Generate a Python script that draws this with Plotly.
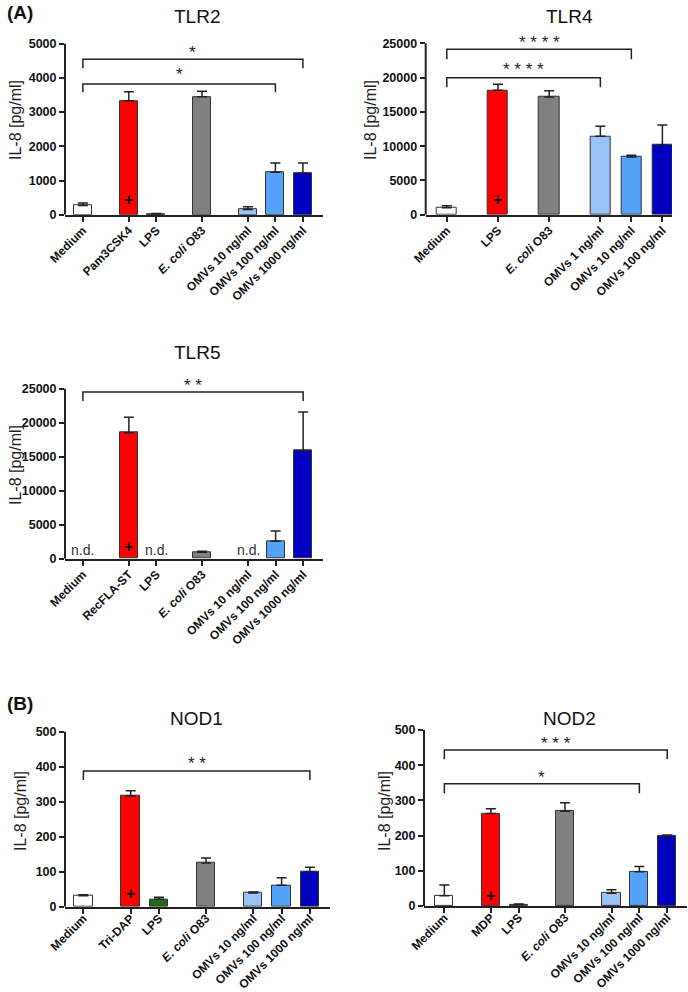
import plotly.graph_objects as go

W, H = 688, 992

# ---------------- data ----------------
tlr2_labels = ["Medium", "Pam3CSK4", "LPS", "<i>E. coli</i> O83",
               "OMVs 10 ng/ml", "OMVs 100 ng/ml", "OMVs 1000 ng/ml"]
tlr2_mean = [270, 3330, 15, 3450, 155, 1240, 1220]
tlr2_upper = [340, 3596, 35, 3608, 234, 1512, 1512]

tlr4_labels = ["Medium", "LPS", "<i>E. coli</i> O83",
               "OMVs 1 ng/ml", "OMVs 10 ng/ml", "OMVs 100 ng/ml"]
tlr4_mean = [1000, 18150, 17170, 11440, 8420, 10210]
tlr4_upper = [1320, 19030, 18090, 12900, 8670, 13090]

tlr5_labels = ["Medium", "RecFLA-ST", "LPS", "<i>E. coli</i> O83",
               "OMVs 10 ng/ml", "OMVs 100 ng/ml", "OMVs 1000 ng/ml"]
tlr5_mean = [None, 18530, None, 950, None, 2560, 15880]
tlr5_upper = [None, 20790, None, 1100, None, 4070, 21570]

nod1_labels = ["Medium", "Tri-DAP", "LPS", "<i>E. coli</i> O83",
               "OMVs 10 ng/ml", "OMVs 100 ng/ml", "OMVs 1000 ng/ml"]
nod1_mean = [31, 316, 21, 125, 39, 61, 100]
nod1_upper = [34, 331, 27, 139, 42, 83, 113]

nod2_labels = ["Medium", "MDP", "LPS", "<i>E. coli</i> O83",
               "OMVs 10 ng/ml", "OMVs 100 ng/ml", "OMVs 1000 ng/ml"]
nod2_mean = [29, 263, 4, 269, 36, 97, 199]
nod2_upper = [60, 276, 6, 293, 46, 112, 202]

# significance brackets: (from index, to index, bracket level, leg bottom, stars, star level)
tlr2_sig = [(0, 6, 4544, 4281, "*", 4757), (0, 5, 3822, 3579, "*", 4085)]
tlr4_sig = [(0, 4, 24132, 22673, "* * * *", 25153), (0, 3, 19990, 18580, "* * * *", 21155)]
tlr5_sig = [(0, 6, 24514, 23190, "* *", 25441)]
nod1_sig = [(0, 6, 388, 362, "* *", 408)]
nod2_sig = [(0, 6, 443, 417, "* * *", 462), (0, 5, 347, 320, "*", 366)]

# positive-control marker (+) levels
tlr2_plus, tlr4_plus, tlr5_plus, nod1_plus, nod2_plus = 430, 2145, 1867, 38, 31
nd_level = 1300

# ---------------- style ----------------
WHITE, RED, GREEN, GRAY = "#ffffff", "#ff0000", "#1a6b1a", "#808080"
LB, MB, DB = "#99c2f7", "#55a2f9", "#0000c0"
INK = "#222222"
FONT = "Liberation Sans"

slots7 = [0, 1.67, 2.67, 4.33, 6.0, 7.0, 8.0]
slots6 = [0, 1.65, 3.3, 4.95, 5.95, 6.95]

panels = [
    dict(title="TLR2", labels=tlr2_labels, mean=tlr2_mean, upper=tlr2_upper, sig=tlr2_sig,
         plus=tlr2_plus, slots=slots7, colors=[WHITE, RED, GREEN, GRAY, LB, MB, DB],
         px=(65, 323), py=(214.7, 43.7), top=5000, step=1000, xr=(-0.65, 8.73),
         tpos=(197, 17), ypos=(15, 120), lo=-3),
    dict(title="TLR4", labels=tlr4_labels, mean=tlr4_mean, upper=tlr4_upper, sig=tlr4_sig,
         plus=tlr4_plus, slots=slots6, colors=[WHITE, RED, GRAY, LB, MB, DB],
         px=(425.7, 672), py=(214.7, 43.3), top=25000, step=5000, xr=(-0.68, 7.26),
         tpos=(569, 17), ypos=(370, 120), lo=-3),
    dict(title="TLR5", labels=tlr5_labels, mean=tlr5_mean, upper=tlr5_upper, sig=tlr5_sig,
         plus=tlr5_plus, slots=slots7, colors=[WHITE, RED, GREEN, GRAY, LB, MB, DB],
         px=(65, 322.7), py=(558.7, 388.7), top=25000, step=5000, xr=(-0.65, 8.71),
         tpos=(197, 352), ypos=(15, 465), lo=-3),
    dict(title="NOD1", labels=nod1_labels, mean=nod1_mean, upper=nod1_upper, sig=nod1_sig,
         plus=nod1_plus, slots=slots7, colors=[WHITE, RED, GREEN, GRAY, LB, MB, DB],
         px=(65, 330), py=(906.7, 731.7), top=500, step=100, xr=(-0.65, 8.71),
         tpos=(196, 718), ypos=(20, 811), lo=-7),
    dict(title="NOD2", labels=nod2_labels, mean=nod2_mean, upper=nod2_upper, sig=nod2_sig,
         plus=nod2_plus, slots=slots7, colors=[WHITE, RED, GREEN, GRAY, LB, MB, DB],
         px=(424, 687), py=(906, 730), top=500, step=100, xr=(-0.73, 8.71),
         tpos=(569, 718), ypos=(384, 811), lo=-7),
]

EXT = 1.12
fig = go.Figure()
annotations = []
shapes = []
layout = {}

for k, p in enumerate(panels, start=1):
    xa = "x" if k == 1 else f"x{k}"
    ya = "y" if k == 1 else f"y{k}"
    xkey, ykey = ("xaxis" if k == 1 else f"xaxis{k}"), ("yaxis" if k == 1 else f"yaxis{k}")
    y0px, ytpx = p["py"]
    ytop_ext_px = y0px - (y0px - ytpx) * EXT
    layout[xkey] = dict(
        domain=[p["px"][0] / W, p["px"][1] / W], anchor=ya, range=list(p["xr"]),
        showline=True, linecolor=INK, linewidth=2, ticks="outside", ticklen=5,
        tickwidth=1.5, tickcolor=INK, tickvals=p["slots"], ticktext=p["labels"],
        tickangle=-45, ticklabelstandoff=p["lo"],
        tickfont=dict(family=FONT, size=12, color="#111", weight="bold"),
        showgrid=False, zeroline=False, automargin=False, fixedrange=True)
    layout[ykey] = dict(
        domain=[1 - y0px / H, 1 - ytop_ext_px / H], anchor=xa,
        range=[0, p["top"] * EXT], showline=False, ticks="outside", ticklen=5,
        tickwidth=1.5, tickcolor=INK, tickformat="d",
        tickvals=list(range(0, p["top"] + 1, p["step"])),
        tickfont=dict(family=FONT, size=12.5, color="#111", weight="bold"),
        showgrid=False, zeroline=False, automargin=False, fixedrange=True)
    # y spine only up to the top tick
    shapes.append(dict(type="line", xref=f"{xa} domain", x0=0, x1=0, yref=ya, y0=0,
                       y1=p["top"], line=dict(color=INK, width=2)))

    err = [None if m is None else u - m for m, u in zip(p["mean"], p["upper"])]
    fig.add_trace(go.Bar(
        x=p["slots"], y=p["mean"], width=0.65, xaxis=xa, yaxis=ya,
        marker=dict(color=p["colors"], line=dict(color="#333333", width=1)),
        error_y=dict(type="data", array=err, arrayminus=[0] * len(err), symmetric=False,
                     color=INK, thickness=1.5, width=5),
        showlegend=False, hoverinfo="skip"))

    for (i, j, lvl, leg, stars, slvl) in p["sig"]:
        xi, xj = p["slots"][i], p["slots"][j]
        fig.add_trace(go.Scatter(
            x=[xi, xi, xj, xj], y=[leg, lvl, lvl, leg], mode="lines", xaxis=xa, yaxis=ya,
            line=dict(color=INK, width=1.5), showlegend=False, hoverinfo="skip"))
        annotations.append(dict(xref=xa, yref=ya, x=(xi + xj) / 2, y=slvl, text=stars,
                                showarrow=False, yanchor="middle",
                                font=dict(family=FONT, size=17, color=INK)))

    # positive control marker on the red bar
    annotations.append(dict(xref=xa, yref=ya, x=p["slots"][1], y=p["plus"], text="<b>+</b>",
                            showarrow=False, yanchor="middle",
                            font=dict(family=FONT, size=16, color="#111")))
    # not detected labels
    for s, m in zip(p["slots"], p["mean"]):
        if m is None:
            annotations.append(dict(xref=xa, yref=ya, x=s, y=nd_level, text="n.d.",
                                    showarrow=False, yanchor="middle",
                                    font=dict(family=FONT, size=14, color="#333")))

    annotations.append(dict(xref="paper", yref="paper", x=p["tpos"][0] / W,
                            y=1 - p["tpos"][1] / H, text=p["title"], showarrow=False,
                            xanchor="center", yanchor="middle",
                            font=dict(family=FONT, size=19, color="#111")))
    annotations.append(dict(xref="paper", yref="paper", x=p["ypos"][0] / W,
                            y=1 - p["ypos"][1] / H, text="IL-8 [pg/ml]", textangle=-90,
                            showarrow=False, xanchor="center", yanchor="middle",
                            font=dict(family=FONT, size=16, color="#222")))

for lbl, py in [("(A)", 13), ("(B)", 703)]:
    annotations.append(dict(xref="paper", yref="paper", x=5 / W, y=1 - py / H,
                            text=f"<b>{lbl}</b>", showarrow=False, xanchor="left",
                            yanchor="middle", font=dict(family=FONT, size=19, color="#111")))

fig.update_layout(width=W, height=H, margin=dict(l=0, r=0, t=0, b=0),
                  paper_bgcolor="white", plot_bgcolor="white", bargap=0,
                  annotations=annotations, shapes=shapes, **layout)

fig.write_html("out.html", config={"displayModeBar": False},
               post_script="document.body.style.margin='0';document.body.style.padding='0';")
